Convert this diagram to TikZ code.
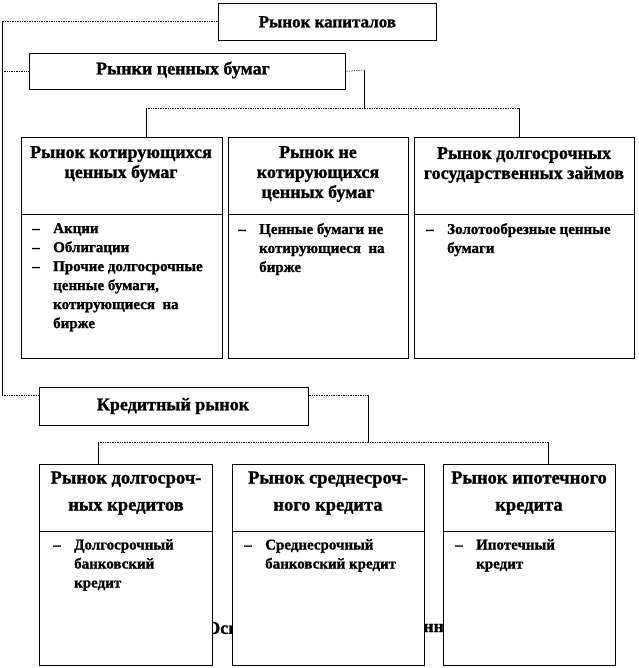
\documentclass[tikz,border=0pt]{standalone}
\usepackage{fontspec}
\setmainfont[BoldFeatures={FakeBold=1.2}]{Liberation Serif}
\newcommand\lsdash{\makebox[21pt][l]{–}}
\newcommand\lsind{\hspace*{21pt}}
\begin{document}
\begin{tikzpicture}[x=1pt,y=-1pt,
  box/.style={draw, line width=0.7pt, fill=white, inner sep=0pt, anchor=north west},
  hline/.style={line width=0.7pt, densely dotted},
  vline/.style={line width=0.7pt},
  head/.style={font=\fontsize{18}{20}\selectfont\bfseries, align=center, inner sep=0pt},
  headb/.style={font=\fontsize{18.5}{27}\selectfont\bfseries, align=center, inner sep=0pt},
  list/.style={font=\fontsize{15}{19}\selectfont\bfseries, align=left, inner sep=0pt, anchor=north west}]
\useasboundingbox (0,0) rectangle (638,668);
\fill[white] (0,0) rectangle (638,668);

% hidden text behind lower boxes
\node[font=\fontsize{18}{20}\selectfont\bfseries, anchor=west, inner sep=0pt] (hid1) at (206,628) {Осн};
\node[font=\fontsize{18}{20}\selectfont\bfseries, anchor=west, inner sep=0pt] (hid2) at (423,628) {нн};

% top level boxes
\node[box, minimum width=218pt, minimum height=37pt] (A) at (218,3) {};
\node[head, font=\fontsize{17}{20}\selectfont\bfseries] (At) at (A.center) {Рынок капиталов};
\node[box, minimum width=316pt, minimum height=36pt] (B) at (29,53) {};
\node[head] (Bt) at (183,70) {Рынки ценных бумаг};
\node[box, minimum width=269pt, minimum height=38pt] (C) at (39,387) {};
\node[head] (Ct) at (173,406) {Кредитный рынок};

% row 1 boxes
\node[box, minimum width=201pt, minimum height=221pt] (b1) at (21,137) {};
\node[box, minimum width=180pt, minimum height=221pt] (b2) at (228,137) {};
\node[box, minimum width=220pt, minimum height=221pt] (b3) at (414,137) {};
\coordinate (r1) at (0,214);
\draw[vline] (b1.west |- r1) -- (b1.east |- r1);
\draw[vline] (b2.west |- r1) -- (b2.east |- r1);
\draw[vline] (b3.west |- r1) -- (b3.east |- r1);
\node[head] (b1h) at (121,164) {Рынок котирующихся\\ценных бумаг};
\node[head] (b2h) at (318,174) {Рынок не\\котирующихся\\ценных бумаг};
\node[head] (b3h) at (524,165) {Рынок долгосрочных\\государственных займов};
\node[list] (b1l) at (32,223) {\lsdash Акции\\\lsdash Облигации\\\lsdash Прочие долгосрочные\\\lsind ценные бумаги,\\\lsind котирующиеся\ \ на\\\lsind бирже};
\node[list] (b2l) at (238,223) {\lsdash Ценные бумаги не\\\lsind котирующиеся\ \ на\\\lsind бирже};
\node[list] (b3l) at (426,223) {\lsdash Золотообрезные ценные\\\lsind бумаги};

% row 2 boxes
\node[box, minimum width=173pt, minimum height=201pt] (d1) at (39,464) {};
\node[box, minimum width=192pt, minimum height=201pt] (d2) at (232,464) {};
\node[box, minimum width=172pt, minimum height=201pt] (d3) at (443,464) {};
\coordinate (r2) at (0,531);
\draw[vline] (d1.west |- r2) -- (d1.east |- r2);
\draw[vline] (d2.west |- r2) -- (d2.east |- r2);
\draw[vline] (d3.west |- r2) -- (d3.east |- r2);
\node[headb] (d1h) at (126,493) {Рынок долгосроч-\\ных кредитов};
\node[headb] (d2h) at (328,493) {Рынок среднесроч-\\ного кредита};
\node[headb] (d3h) at (529,493) {Рынок ипотечного\\кредита};
\node[list] (d1l) at (53,539) {\lsdash Долгосрочный\\\lsind банковский\\\lsind кредит};
\node[list] (d2l) at (244,539) {\lsdash Среднесрочный\\\lsind банковский кредит};
\node[list] (d3l) at (455,539) {\lsdash Ипотечный\\\lsind кредит};

% connectors
\coordinate (ja) at (2,21);
\coordinate (jc) at (2,395);
\coordinate (jb1) at (364,70);
\coordinate (jb2) at (364,108);
\coordinate (x1) at (146,108);
\coordinate (x3) at (519,108);
\coordinate (jk1) at (368,395);
\coordinate (jk2) at (368,442);
\coordinate (y1) at (98,442);
\coordinate (y3) at (548,442);

\draw[hline] (A.west |- ja) -- (ja);
\draw[vline] (ja) -- (jc);
\draw[hline] (B.west -| ja) -- (B.west);
\draw[hline] (jc) -- (C.west |- jc);
\draw[hline] (B.east) -- (jb1);
\draw[vline] (jb1) -- (jb2);
\draw[hline] (x1) -- (x3);
\draw[vline] (x1) -- (x1 |- b1.north);
\draw[vline] (x3) -- (x3 |- b3.north);
\draw[hline] (C.east |- jk1) -- (jk1);
\draw[vline] (jk1) -- (jk2);
\draw[hline] (y1) -- (y3);
\draw[vline] (y1) -- (y1 |- d1.north);
\draw[vline] (y3) -- (y3 |- d3.north);
\end{tikzpicture}
\end{document}
